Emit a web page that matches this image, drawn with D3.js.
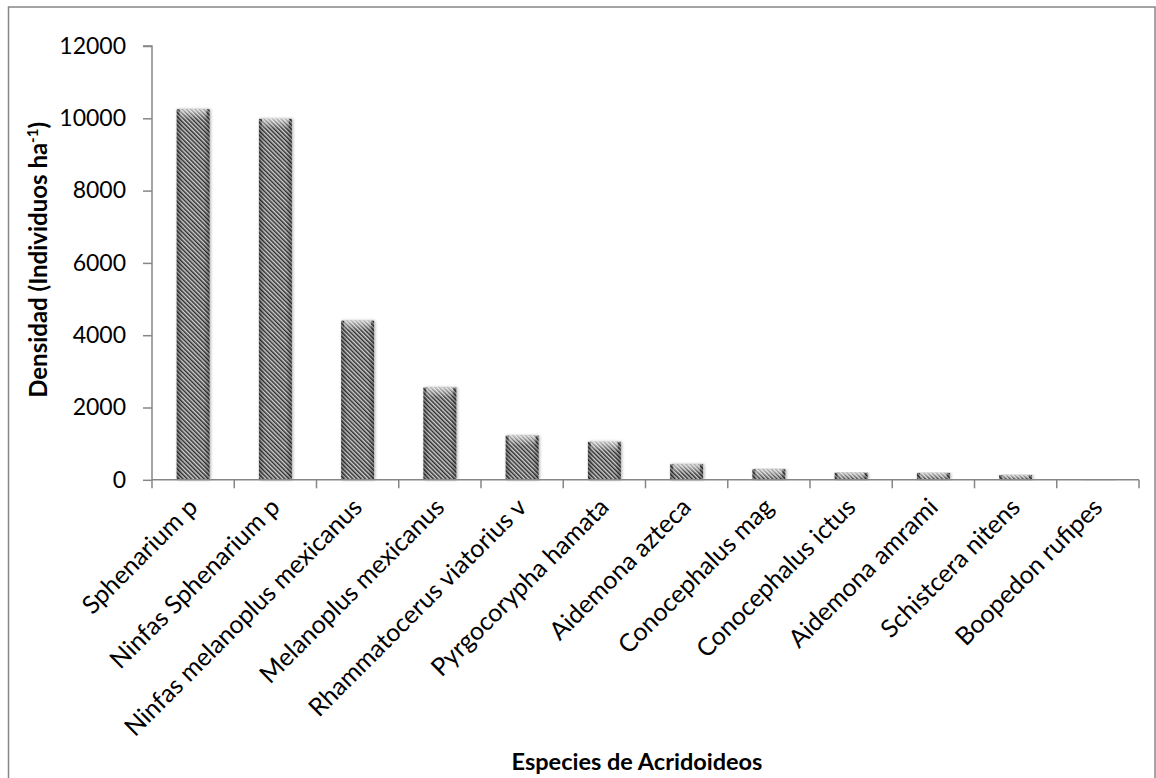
<!DOCTYPE html>
<html>
<head>
<meta charset="utf-8">
<script src="https://cdn.jsdelivr.net/npm/d3@7"></script>
<style>
  html, body { margin: 0; padding: 0; background: #fff; }
  svg { display: block; font-family: Lato, "Open Sans", sans-serif; }
</style>
</head>
<body>
<svg id="chart" width="1156" height="778"></svg>
<script>
// Acridoid species and their estimated density (individuals per hectare)
const species = [
  "Sphenarium p",
  "Ninfas Sphenarium p",
  "Ninfas melanoplus mexicanus",
  "Melanoplus mexicanus",
  "Rhammatocerus viatorius v",
  "Pyrgocorypha hamata",
  "Aidemona azteca",
  "Conocephalus mag",
  "Conocephalus ictus",
  "Aidemona amrami",
  "Schistcera nitens",
  "Boopedon rufipes"
];
const density = [10250, 9985, 4400, 2550, 1220, 1050, 430, 290, 195, 190, 130, 15];
const yTicks = [0, 2000, 4000, 6000, 8000, 10000, 12000];

const svg = d3.select("#chart");
const W = 1156, H = 778;
const plot = { left: 152, right: 1139, top: 46, bottom: 479.8 };
const axisColor = "#868686";

// outer chart frame
svg.append("rect")
  .attr("x", 8.5).attr("y", 7)
  .attr("width", W - 9.5).attr("height", H + 20)
  .attr("fill", "#fff")
  .attr("stroke", axisColor).attr("stroke-width", 1.5);

const x = d3.scaleBand().domain(species).range([plot.left, plot.right]).paddingInner(0.6).paddingOuter(0.3);
const band = d3.scaleBand().domain(species).range([plot.left, plot.right]);
const y = d3.scaleLinear().domain([0, 12000]).range([plot.bottom, plot.top]);

// fills: diagonal hatch, side shading, top glare, soft shadow
const defs = svg.append("defs");
const pat = defs.append("pattern")
  .attr("id", "hatch").attr("patternUnits", "userSpaceOnUse")
  .attr("width", 3).attr("height", 3)
  .attr("patternTransform", "rotate(-45)");
pat.append("rect").attr("width", 3).attr("height", 3).attr("fill", "#d0d0d0");
pat.append("rect").attr("width", 1.5).attr("height", 3).attr("fill", "#2e2e2e");

const side = defs.append("linearGradient").attr("id", "side").attr("x1", 0).attr("x2", 1).attr("y1", 0).attr("y2", 0);
[[0, 0.35], [0.18, 0], [0.82, 0], [1, 0.35]].forEach(([o, a]) =>
  side.append("stop").attr("offset", o).attr("stop-color", "#000").attr("stop-opacity", a));

const glare = defs.append("linearGradient").attr("id", "glare").attr("x1", 0).attr("x2", 0).attr("y1", 0).attr("y2", 1);
[[0, 0.65], [1, 0]].forEach(([o, a]) =>
  glare.append("stop").attr("offset", o).attr("stop-color", "#fff").attr("stop-opacity", a));

const shadow = defs.append("filter").attr("id", "shadow").attr("x", "-30%").attr("y", "-10%").attr("width", "160%").attr("height", "120%");
shadow.append("feDropShadow").attr("dx", 1).attr("dy", 0).attr("stdDeviation", 1.5)
  .attr("flood-color", "#000").attr("flood-opacity", 0.35);

// bars
const bars = svg.append("g").selectAll("g").data(species).join("g");
bars.append("rect")
  .attr("x", d => x(d)).attr("y", (d, i) => y(density[i]))
  .attr("width", x.bandwidth())
  .attr("height", (d, i) => Math.max(0.8, y(0) - y(density[i])))
  .attr("fill", "url(#hatch)")
  .attr("filter", "url(#shadow)");
bars.append("rect")
  .attr("x", d => x(d)).attr("y", (d, i) => y(density[i]))
  .attr("width", x.bandwidth())
  .attr("height", (d, i) => Math.max(0.8, y(0) - y(density[i])))
  .attr("fill", "url(#side)");
bars.append("rect")
  .attr("x", d => x(d) + 3).attr("y", (d, i) => y(density[i]))
  .attr("width", x.bandwidth() - 6)
  .attr("height", (d, i) => Math.min(10, y(0) - y(density[i])))
  .attr("fill", "url(#glare)");

// y axis
const yAxis = svg.append("g")
  .attr("transform", `translate(${plot.left},0)`)
  .call(d3.axisLeft(y).tickValues(yTicks).tickSize(9).tickPadding(17).tickFormat(d3.format("d")));
yAxis.selectAll("path, line").attr("stroke", axisColor).attr("stroke-width", 1.5);
yAxis.select(".domain").attr("d", `M-9,${plot.top}H0V${plot.bottom}`);
yAxis.selectAll("text").attr("font-size", 23).attr("fill", "#000").attr("font-family", "Lato, sans-serif");

// x axis with ticks on the category boundaries
const xg = svg.append("g");
xg.append("line")
  .attr("x1", plot.left).attr("x2", plot.right)
  .attr("y1", plot.bottom).attr("y2", plot.bottom)
  .attr("stroke", axisColor).attr("stroke-width", 1.5);
const bounds = species.map(d => band(d)).concat([plot.right]);
xg.selectAll("line.tick").data(bounds).join("line")
  .attr("class", "tick")
  .attr("x1", d => d).attr("x2", d => d)
  .attr("y1", plot.bottom).attr("y2", plot.bottom + 8.5)
  .attr("stroke", axisColor).attr("stroke-width", 1.5);
xg.selectAll("text").data(species).join("text")
  .attr("transform", d => `translate(${band(d) + band.bandwidth() / 2 + 6},${plot.bottom + 29}) rotate(-45)`)
  .attr("text-anchor", "end")
  .attr("font-size", 25)
  .attr("fill", "#000")
  .text(d => d);

// axis titles
svg.append("text")
  .attr("x", 637).attr("y", 770)
  .attr("text-anchor", "middle")
  .attr("font-size", 23.5).attr("font-weight", "bold")
  .text("Especies de Acridoideos");

const yt = svg.append("text")
  .attr("transform", `translate(47,${(plot.top + plot.bottom) / 2 - 3}) rotate(-90)`)
  .attr("text-anchor", "middle")
  .attr("font-size", 24).attr("font-weight", "bold");
yt.append("tspan").text("Densidad (Individuos ha");
yt.append("tspan").attr("font-size", 15).attr("dy", -9).text("-1");
yt.append("tspan").attr("dy", 9).text(")");
</script>
</body>
</html>
